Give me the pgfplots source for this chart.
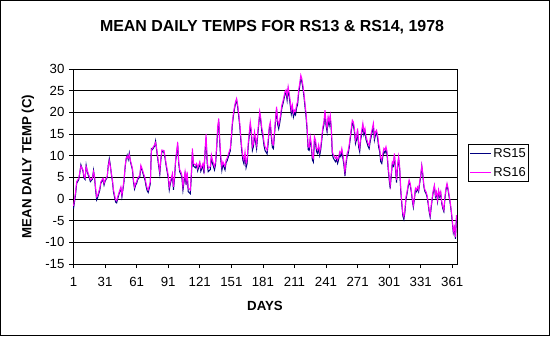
\documentclass[border=0pt]{standalone}
\usepackage{pgfplots}
\pgfplotsset{compat=1.18}
\usepackage{pgfplotstable}
\usepackage{fontspec}
\setmainfont{Liberation Sans}
\definecolor{rsnavy}{RGB}{0,0,128}
\definecolor{rsmag}{RGB}{255,0,255}
\pgfplotstableread{
day rsA rsB
1 -2.2 -1.6
3 1.2 1.7
4 3.6 4.0
6 4.5 4.8
7 6.0 6.3
8 7.9 7.6
10 6.4 6.7
11 4.8 5.2
12 4.5 4.8
13 7.8 7.5
14 6.4 6.7
15 5.5 5.9
16 4.9 5.2
17 4.0 4.4
19 4.6 4.8
20 6.6 6.3
21 4.8 5.2
22 2.0 2.5
23 -0.2 0.5
24 0.4 0.9
26 2.1 2.5
27 3.7 4.0
29 4.5 4.8
30 3.2 3.6
31 4.1 4.4
33 5.0 5.2
34 7.8 7.5
35 9.3 8.8
36 7.8 7.5
37 5.6 5.9
38 4.0 4.4
39 1.6 2.1
41 -0.7 -0.2
42 -0.9 -0.4
43 0.1 0.5
45 1.8 2.1
46 2.4 2.8
47 0.5 0.9
49 4.0 4.4
50 7.2 7.5
51 9.2 9.4
52 10.1 9.9
53 9.1 9.4
54 10.6 10.3
55 8.7 9.0
57 6.7 7.1
58 3.9 4.4
59 2.3 2.8
60 3.2 3.6
61 3.6 4.0
62 4.5 4.8
64 5.1 5.5
65 7.4 7.8
66 6.8 7.1
67 5.9 6.3
69 4.3 4.8
70 2.9 3.5
71 1.9 2.5
72 1.5 2.1
74 3.5 4.0
75 11.6 11.3
76 11.4 11.7
78 12.2 12.5
79 13.4 13.0
80 11.3 11.7
81 9.3 9.8
83 5.7 6.3
84 9.0 9.4
85 11.0 11.3
87 10.8 11.2
88 9.4 9.8
89 7.7 8.2
91 4.9 5.5
92 2.1 2.8
93 3.5 4.0
95 5.4 5.9
96 2.1 2.8
97 4.7 5.2
98 8.6 9.0
100 12.4 13.2
101 8.1 8.6
102 6.2 6.7
103 5.8 6.3
104 4.9 5.5
105 2.0 2.8
107 5.7 6.3
108 3.3 4.0
109 5.8 6.3
110 1.7 2.5
112 1.2 2.1
113 5.3 5.9
114 10.8 11.7
115 7.6 8.2
117 7.2 7.8
118 7.8 8.2
119 6.5 7.1
121 8.2 8.6
122 6.4 7.1
124 7.7 8.2
125 5.9 6.7
126 10.6 11.3
127 14.2 15.0
128 8.3 9.0
129 6.3 7.1
131 6.8 7.5
132 9.6 10.2
133 8.3 9.0
135 6.7 7.5
136 8.0 8.6
137 11.4 12.1
138 15.8 16.7
139 17.9 18.6
140 12.8 13.6
141 8.9 9.8
142 6.6 7.5
143 8.0 8.6
145 6.7 7.5
146 8.4 9.0
147 8.8 9.4
148 9.6 10.2
150 11.1 11.7
151 13.8 14.4
152 17.2 17.8
153 19.3 19.8
154 20.8 21.3
155 22.0 22.5
156 22.8 23.2
157 21.2 21.7
158 19.1 19.8
159 16.8 17.5
160 13.6 14.4
161 10.9 11.7
162 8.9 9.8
163 8.1 9.0
164 10.2 10.9
165 7.2 8.2
166 8.2 9.0
167 12.0 12.8
169 16.9 17.8
170 15.1 15.9
171 11.2 12.1
172 12.1 12.8
173 14.8 15.5
174 13.2 14.0
175 11.6 12.5
176 14.5 15.2
178 19.6 20.2
179 17.9 18.6
180 15.5 16.3
181 14.4 15.2
182 12.4 13.2
183 11.2 12.1
185 10.4 11.3
186 12.8 13.6
187 16.0 16.7
188 17.2 17.8
189 14.3 15.2
190 11.9 12.8
191 11.6 12.5
192 14.8 15.5
193 17.9 18.6
194 20.8 21.3
195 17.3 18.2
196 16.2 17.1
197 17.5 18.2
198 19.1 19.8
199 21.0 21.7
200 21.9 22.5
201 23.0 23.6
202 24.2 24.8
203 24.6 25.2
204 22.8 23.6
205 25.3 25.9
206 23.6 24.4
207 21.6 22.5
208 19.6 20.5
209 21.0 21.7
210 18.9 19.8
211 19.8 20.5
212 19.4 20.2
213 21.0 21.7
214 21.8 22.5
215 24.5 25.2
216 26.0 26.7
217 27.8 28.6
218 27.1 27.8
219 25.6 26.3
220 23.7 24.4
221 21.3 22.1
222 19.0 19.8
223 15.9 16.7
224 11.4 12.1
225 11.2 11.9
226 13.7 14.4
227 12.0 12.8
228 9.0 9.8
229 8.5 9.4
230 13.6 14.4
231 12.9 13.6
232 10.9 11.7
233 10.5 11.3
234 11.8 12.5
235 10.1 10.9
236 11.4 12.1
237 13.7 14.4
238 16.0 16.7
239 17.1 17.8
240 19.8 20.5
241 17.0 17.8
242 15.5 16.3
243 18.3 19.0
244 17.0 17.8
245 18.7 19.4
246 15.9 16.7
247 10.2 10.9
248 9.4 10.2
249 9.0 9.8
250 8.6 9.4
251 9.1 9.8
252 8.2 9.0
253 9.1 9.8
254 10.2 10.9
255 9.8 10.5
256 11.0 11.7
257 9.5 10.2
258 7.8 8.6
259 5.3 6.3
260 7.9 8.6
261 9.8 10.5
262 10.4 11.1
263 11.8 12.5
264 13.8 14.4
265 15.7 16.3
266 17.5 18.2
267 17.1 17.8
268 15.5 16.3
269 12.8 13.6
270 13.7 14.4
271 15.6 16.3
272 12.0 12.8
273 10.9 11.7
274 13.7 14.4
275 15.2 15.9
276 16.8 17.5
277 14.8 15.5
278 15.6 16.3
279 13.7 14.4
280 12.9 13.6
281 12.1 12.8
282 11.6 12.3
283 13.3 14.0
284 14.5 15.2
285 15.6 16.3
286 16.8 17.5
287 13.6 14.4
288 14.8 15.5
289 15.2 15.9
290 14.1 14.8
291 12.0 12.8
292 10.9 11.7
293 8.6 9.4
294 8.2 9.0
295 9.8 10.5
296 11.0 11.7
297 10.6 11.3
298 11.4 12.1
299 10.2 10.9
300 7.1 7.8
301 4.5 5.2
302 2.4 3.2
303 5.3 5.9
304 8.0 8.6
305 7.6 8.2
306 9.9 10.5
307 6.9 7.5
308 3.8 4.4
309 7.2 7.8
310 9.3 9.8
311 6.9 7.5
312 1.9 2.5
313 -1.2 -0.6
314 -3.9 -3.3
315 -4.7 -4.1
316 -3.0 -2.5
317 0.0 0.5
318 1.2 1.7
319 2.8 3.2
320 4.0 4.4
321 3.2 3.6
322 1.7 2.1
323 -0.3 0.2
324 -1.9 -1.4
325 0.0 0.5
326 2.1 2.5
327 1.7 2.1
328 2.4 2.8
329 1.7 2.1
330 3.6 4.0
331 5.1 5.5
332 7.5 7.8
333 5.5 5.9
334 2.8 3.2
335 1.7 2.1
336 1.3 1.7
337 0.5 0.9
338 -1.0 -0.6
339 -2.9 -2.5
340 -4.2 -3.7
341 -1.9 -1.4
342 0.1 0.5
343 1.7 2.1
344 2.9 3.2
345 0.5 0.9
346 1.3 1.7
347 -0.6 -0.2
348 1.7 2.1
349 0.5 0.9
350 1.3 1.7
351 -1.0 -0.6
352 -2.2 -1.8
353 -2.9 -2.5
354 0.1 0.5
355 2.1 2.5
356 3.2 3.6
357 2.1 2.5
358 0.5 0.9
359 -1.0 -0.6
360 -2.9 -2.5
361 -5.3 -4.8
362 -7.8 -7.5
363 -6.8 -6.4
364 -9.2 -8.8
365 -4.4 -3.7
}\temps

\begin{document}
\begin{tikzpicture}[x=1bp,y=1bp]
\fill[white] (0,0) rectangle (550,336);
\draw[line width=1bp] (0.5,0.5) rectangle (549.5,335.5);
\begin{axis}[
  at={(73bp,72bp)}, anchor=south west,
  width=384bp, height=195bp, scale only axis,
  xmin=0.5, xmax=365.5, ymin=-15, ymax=30,
  xtick={1,31,...,361}, ytick={-15,-10,...,30},
  ymajorgrids, major grid style={black, line width=0.8bp},
  axis line style={black, line width=0.8bp},
  every tick/.style={black, line width=0.8bp},
  tick align=outside, major tick length=4bp,
  xtick pos=bottom, ytick pos=left,
  tick label style={font=\fontsize{13.3}{16}\selectfont},
  /pgf/number format/assume math mode=true,
  xticklabel style={yshift=-6bp},
  yticklabel style={xshift=-1bp},
  legend style={at={(1.0286,0.615)}, anchor=north west, draw=black,
    line width=0.8bp, inner xsep=1bp, inner ysep=2bp,
    font=\fontsize{13}{16}\selectfont, row sep=4bp},
  legend cell align=left,
  legend image code/.code={\draw[#1, line width=1bp] (0bp,0bp) -- (21bp,0bp);},
]
\addplot[rsnavy, line width=1bp] table[x=day, y=rsA] {\temps};
\addlegendentry{RS15}
\addplot[rsmag, line width=1bp] table[x=day, y=rsB] {\temps};
\addlegendentry{RS16}
\end{axis}
\node[font=\bfseries\fontsize{16}{19}\selectfont] at (272,309) {MEAN DAILY TEMPS FOR RS13 \& RS14, 1978};
\node[font=\bfseries\fontsize{13.3}{16}\selectfont, rotate=90] at (28,169.5) {MEAN DAILY TEMP (C)};
\node[font=\bfseries\fontsize{13.3}{16}\selectfont] at (265,30) {DAYS};
\end{tikzpicture}
\end{document}
